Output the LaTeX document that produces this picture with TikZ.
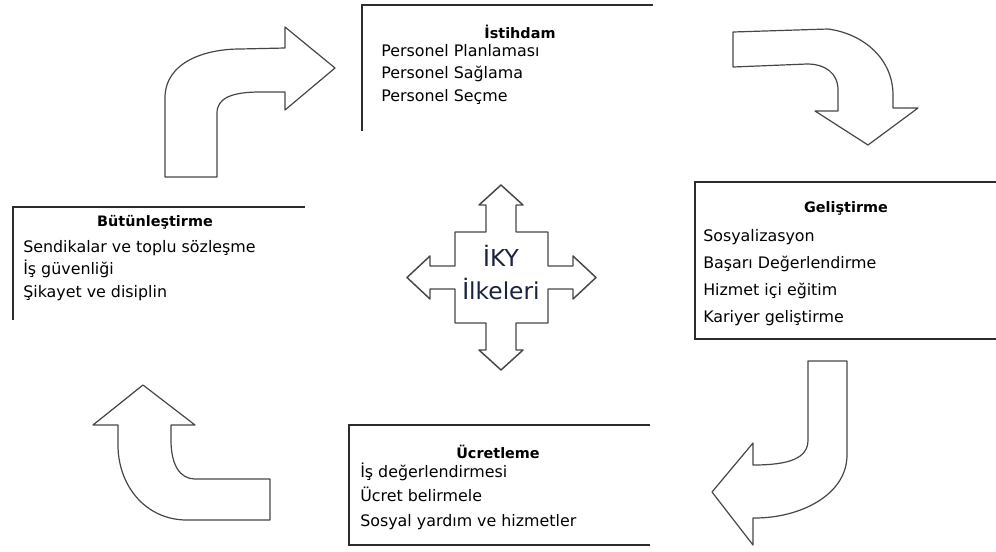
\documentclass[tikz,border=0pt]{standalone}
\usepackage{fontspec}
\setmainfont{DejaVu Sans}
\usepackage{tikz}
\usetikzlibrary{positioning}
\definecolor{cizgi}{RGB}{45,45,45}
\definecolor{okgri}{RGB}{70,70,70}
\definecolor{ikymavi}{RGB}{25,35,65}
\tikzstyle{kutu} = [line width=1.4pt, color=cizgi]
\tikzstyle{ok} = [line width=0.9pt, color=okgri, line join=round]
\tikzstyle{baslik} = [inner sep=0pt, font=\bfseries\fontsize{10.8}{13}\selectfont]
\tikzstyle{madde} = [anchor=west, inner sep=0pt, text height=1.6ex, text depth=0.4ex, font=\fontsize{11.9}{14}\selectfont]
\tikzstyle{iky} = [inner sep=0pt, text=ikymavi, font=\fontsize{17.5}{20}\selectfont]

\begin{document}
\begin{tikzpicture}[x=0.75pt, y=-0.75pt]
\useasboundingbox (0,0) rectangle (996,551);

% Boxes (open sides as in the figure)
\draw[kutu] (362,131) -- (362,5) -- (653,5);
\draw[kutu] (996,182) -- (695,182) -- (695,339) -- (996,339);
\draw[kutu] (650,425) -- (349,425) -- (349,545) -- (650,545);
\draw[kutu] (13,320) -- (13,207) -- (305,207);

% Istihdam
\node[baslik] (ist) at (520,32) {İstihdam};
\foreach \t [count=\i] in {Personel Planlaması, Personel Sağlama, Personel Seçme}
    \node[madde] (ist\i) at (381,{52+22.5*(\i-1)}) {\t};

% Gelistirme
\node[baslik] (gel) at (846,208) {Geliştirme};
\foreach \t [count=\i] in {Sosyalizasyon, Başarı Değerlendirme, Hizmet içi eğitim, Kariyer geliştirme}
    \node[madde] (gel\i) at (703,{237+27*(\i-1)}) {\t};

% Ucretleme
\node[baslik] (ucr) at (498,452) {Ücretleme};
\foreach \t [count=\i] in {İş değerlendirmesi, Ücret belirmele, Sosyal yardım ve hizmetler}
    \node[madde] (ucr\i) at (360,{473+24.5*(\i-1)}) {\t};

% Butunlestirme
\node[baslik] (but) at (155,222) {Bütünleştirme};
\foreach \t [count=\i] in {Sendikalar ve toplu sözleşme, İş güvenliği, Şikayet ve disiplin}
    \node[madde] (but\i) at (23,{248+22.5*(\i-1)}) {\t};

% Curved arrows between the boxes
\draw[ok] (165,177) -- (165,98) .. controls (165,62) and (205,49) .. (240,49)
    -- (285,48) -- (285,27) -- (335,68) -- (285,110) -- (285,92) -- (260,92)
    .. controls (232,92) and (217,98) .. (217,113) -- (217,177) -- cycle;
\draw[ok] (733,32) -- (828,29) .. controls (865,34) and (893,60) .. (893,95)
    -- (893,108) -- (918,108) -- (868,145) -- (815,111) -- (838,111) -- (838,90)
    .. controls (838,73) and (825,64) .. (807,64) -- (733,67) -- cycle;
\draw[ok] (808,361) -- (847,361) -- (847,455) .. controls (847,495) and (800,518) .. (755,518)
    -- (753,518) -- (753,545) -- (712,492) -- (753,443) -- (753,465)
    .. controls (790,465) and (808,458) .. (808,440) -- cycle;
\draw[ok] (270,520) -- (187,520) .. controls (145,520) and (118,485) .. (118,445)
    -- (118,425) -- (93,425) -- (143,385) -- (195,425) -- (171,425) -- (171,440)
    .. controls (171,465) and (180,479) .. (195,479) -- (270,479) -- cycle;

% Center cross
\draw[ok, line width=1.1pt] (455,232) -- (486,232) -- (486,205) -- (479,205) -- (501,185)
    -- (523,205) -- (516,205) -- (516,232) -- (548,232) -- (548,266) -- (573,266)
    -- (573,256) -- (596,277.5) -- (573,299) -- (573,289) -- (548,289) -- (548,323)
    -- (516,323) -- (516,350) -- (523,350) -- (501,370) -- (479,350) -- (486,350)
    -- (486,323) -- (455,323) -- (455,289) -- (430,289) -- (430,299) -- (407,277.5)
    -- (430,256) -- (430,266) -- (455,266) -- cycle;
\node[iky] (iky1) at (501,256) {İKY};
\node[iky] (iky2) at (501,289) {İlkeleri};
\end{tikzpicture}
\end{document}
